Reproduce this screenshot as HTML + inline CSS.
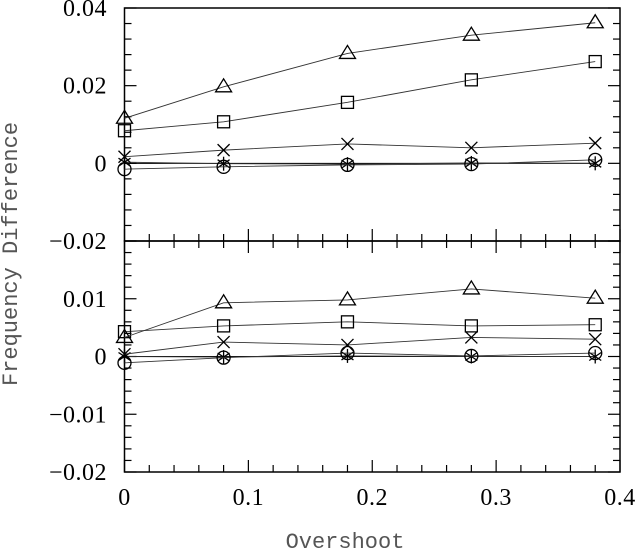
<!DOCTYPE html>
<html><head><meta charset="utf-8"><style>
body{margin:0;background:#fff;width:638px;height:550px;overflow:hidden}
svg{display:block}
.tk{font-family:"Liberation Serif",serif;font-size:24px;letter-spacing:0.5px;fill:#000}
.ttl{font-family:"Liberation Mono",monospace;font-size:22px;fill:#555}
</style></head><body>
<svg id="chart" width="638" height="550"></svg>
<script>
const xs = [0, 0.08, 0.18, 0.28, 0.38];
const topTriangle = [0.0116, 0.0197, 0.0283, 0.0330, 0.0362];
const topSquare = [0.0084, 0.0107, 0.0157, 0.0215, 0.0262];
const topCross = [0.0017, 0.0034, 0.0050, 0.0040, 0.0052];
const topCircle = [-0.0015, -0.0009, -0.0004, -0.0002, 0.0009];
const topStar = [0.0003, -0.0001, -0.0002, 0.0001, 0.0000];
const botTriangle = [0.0033, 0.0093, 0.0098, 0.0117, 0.0101];
const botSquare = [0.0043, 0.0053, 0.0060, 0.0053, 0.0055];
const botCross = [0.0004, 0.0025, 0.0020, 0.0033, 0.0030];
const botCircle = [-0.0011, -0.0002, 0.0006, 0.0001, 0.0006];
const botStar = [0.0000, -0.0001, 0.0001, 0.0000, 0.0000];
const xTicks = [0, 0.1, 0.2, 0.3, 0.4];
const xTickLabels = ["0", "0.1", "0.2", "0.3", "0.4"];
const topTicks = [0.04, 0.02, 0, -0.02];
const topTickLabels = ["0.04", "0.02", "0", "\u22120.02"];
const botTicks = [0.01, 0, -0.01, -0.02];
const botTickLabels = ["0.01", "0", "\u22120.01", "\u22120.02"];

const NS = "http://www.w3.org/2000/svg";
const svg = document.getElementById("chart");
const L = 124.5, R = 620, T1 = 8, B1 = 241, T2 = 241, B2 = 472;
const xS = v => L + v / 0.4 * (R - L);
const yTop = v => T1 + (0.04 - v) / 0.06 * (B1 - T1);
const yBot = v => T2 + (0.02 - v) / 0.04 * (B2 - T2);
function mk(tag, attrs, parent) {
  const e = document.createElementNS(NS, tag);
  for (const k in attrs) e.setAttribute(k, attrs[k]);
  (parent || svg).appendChild(e);
  return e;
}
function frame(t, b, name) {
  const g = mk("g", {});
  
  
  mk("rect", {x: L, y: t, width: R - L, height: b - t, fill: "none", stroke: "#000", "stroke-width": 1.5}, g);
  return g;
}
const f1 = frame(T1, B1, "top-panel-frame");
const f2 = frame(T2, B2, "bottom-panel-frame");
for (let i = 0; i <= 20; i++) {
  const v = i * 0.02, x = xS(v), major = i % 5 === 0, len = major ? 12 : 7;
  mk("line", {x1: x, x2: x, y1: B1, y2: B1 - len, stroke: "#000", "stroke-width": 1.2}, f1);
  mk("line", {x1: x, x2: x, y1: T2, y2: T2 + len, stroke: "#000", "stroke-width": 1.2}, f2);
  mk("line", {x1: x, x2: x, y1: B2, y2: B2 - len, stroke: "#000", "stroke-width": 1.2}, f2);
}
for (let i = 0; i <= 15; i++) {
  const v = 0.04 - i * 0.004, y = yTop(v), major = i % 5 === 0, len = major ? 12 : 7;
  mk("line", {x1: L, x2: L + len, y1: y, y2: y, stroke: "#000", "stroke-width": 1.2}, f1);
  mk("line", {x1: R, x2: R - len, y1: y, y2: y, stroke: "#000", "stroke-width": 1.2}, f1);
}
for (let i = 0; i <= 20; i++) {
  const v = 0.02 - i * 0.002, y = yBot(v), major = i % 5 === 0, len = major ? 12 : 7;
  mk("line", {x1: L, x2: L + len, y1: y, y2: y, stroke: "#000", "stroke-width": 1.2}, f2);
  mk("line", {x1: R, x2: R - len, y1: y, y2: y, stroke: "#000", "stroke-width": 1.2}, f2);
}
xTicks.forEach((v, i) => {
  const t = mk("text", {x: xS(v), y: B2 + 33, "text-anchor": "middle", class: "tk"});
  t.textContent = xTickLabels[i];
  
  
});
topTicks.forEach((v, i) => {
  const t = mk("text", {x: 107, y: yTop(v) + 8, "text-anchor": "end", class: "tk"});
  t.textContent = topTickLabels[i];
  
  
});
botTicks.forEach((v, i) => {
  const t = mk("text", {x: 107, y: yBot(v) + 8, "text-anchor": "end", class: "tk"});
  t.textContent = botTickLabels[i];
  
  
});
const xt = mk("text", {x: 345, y: 548, "text-anchor": "middle", class: "ttl"});
xt.textContent = "Overshoot";


const yt = mk("text", {x: 0, y: 0, "text-anchor": "middle", class: "ttl", transform: "translate(17,254) rotate(-90)"});
yt.textContent = "Frequency Difference";


[[f1, yTop(0)], [f2, yBot(0)]].forEach(([g, y]) => {
  mk("line", {x1: xS(0), x2: xS(0.38), y1: y, y2: y, stroke: "#000", "stroke-width": 1}, g);
});
function marker(g, type, x, y) {
  const s = 7, a = {fill: "none", stroke: "#000", "stroke-width": 1.3};
  if (type === "triangle") mk("polygon", Object.assign({points: `${x},${y - s - 1} ${x - s - 1},${y + s - 2} ${x + s + 1},${y + s - 2}`}, a), g);
  else if (type === "square") mk("rect", Object.assign({x: x - 6, y: y - 6, width: 12, height: 12}, a), g);
  else if (type === "circle") mk("circle", Object.assign({cx: x, cy: y, r: 6.5}, a), g);
  else if (type === "cross") { mk("line", Object.assign({x1: x - 6, y1: y - 6, x2: x + 6, y2: y + 6}, a), g); mk("line", Object.assign({x1: x - 6, y1: y + 6, x2: x + 6, y2: y - 6}, a), g); }
  else { mk("line", Object.assign({x1: x, y1: y - 7, x2: x, y2: y + 7}, a), g); mk("line", Object.assign({x1: x - 6, y1: y - 4, x2: x + 6, y2: y + 4}, a), g); mk("line", Object.assign({x1: x - 6, y1: y + 4, x2: x + 6, y2: y - 4}, a), g); }
}
function series(vals, yf, type, name) {
  const g = mk("g", {});
  
  
  mk("polyline", {points: vals.map((v, i) => xS(xs[i]) + "," + yf(v)).join(" "), fill: "none", stroke: "#333", "stroke-width": 0.9}, g);
  vals.forEach((v, i) => marker(g, type, xS(xs[i]), yf(v)));
}
series(topStar, yTop, "star", "top-series-star");
series(topCircle, yTop, "circle", "top-series-circle");
series(topCross, yTop, "cross", "top-series-cross");
series(topSquare, yTop, "square", "top-series-square");
series(topTriangle, yTop, "triangle", "top-series-triangle");
series(botStar, yBot, "star", "bottom-series-star");
series(botCircle, yBot, "circle", "bottom-series-circle");
series(botCross, yBot, "cross", "bottom-series-cross");
series(botSquare, yBot, "square", "bottom-series-square");
series(botTriangle, yBot, "triangle", "bottom-series-triangle");
</script>
</body></html>
